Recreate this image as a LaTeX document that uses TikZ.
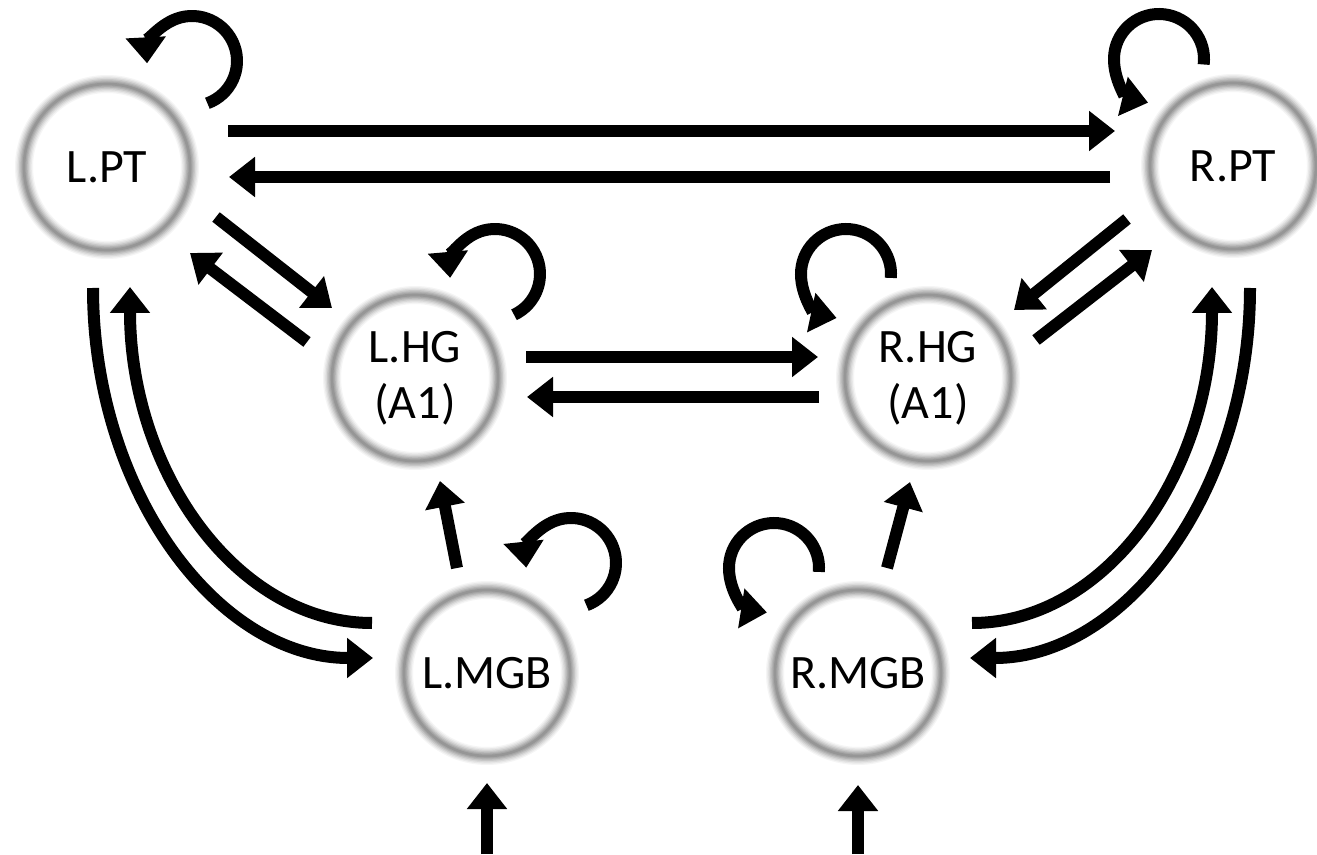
\documentclass[tikz,border=0pt]{standalone}
\usepackage{fontspec}
\setmainfont{Carlito}
\usetikzlibrary{arrows.meta}
\begin{document}
\begin{tikzpicture}[x=0.75pt,y=0.75pt,
  roi/.style={circle, minimum size=124.5pt, inner sep=0pt, align=center,
    font=\fontsize{36}{42}\selectfont,
    preaction={fill=white},
    preaction={draw=black!4, line width=13.5pt},
    preaction={draw=black!9, line width=11.5pt},
    preaction={draw=black!15, line width=9.5pt},
    preaction={draw=black!22, line width=7.5pt},
    preaction={draw=black!29, line width=5.5pt},
    preaction={draw=black!35, line width=3.75pt},
    draw=black!41, line width=2pt},
  arr/.style={line width=9pt, -{Triangle[length=19.5pt,width=29pt]}}]
\useasboundingbox (0,0) rectangle (1317,854);
\node[roi] (lpt) at (107,687) {L.PT};
\node[roi] (rpt) at (1233,688) {R.PT};
\node[roi] (lhg) at (415,476) {L.HG\\(A1)};
\node[roi] (rhg) at (928,476) {R.HG\\(A1)};
\node[roi] (lmgb) at (487,181) {L.MGB};
\node[roi] (rmgb) at (858,181) {R.MGB};
\coordinate (inl) at (487,0);
\coordinate (inr) at (858,0);
% top horizontals
\draw[arr] ([shift={(121,36)}]lpt.center) -- ([shift={(-118,35)}]rpt.center);
\draw[arr] ([shift={(-123,-11)}]rpt.center) -- ([shift={(122,-10)}]lpt.center);
% middle horizontals
\draw[arr] ([shift={(111,21)}]lhg.center) -- ([shift={(-110,21)}]rhg.center);
\draw[arr] ([shift={(-109,-19)}]rhg.center) -- ([shift={(112,-19)}]lhg.center);
% diagonals
\draw[arr] ([shift={(109,-50)}]lpt.center) -- ([shift={(-83,70)}]lhg.center);
\draw[arr] ([shift={(-108,36)}]lhg.center) -- ([shift={(83,-86)}]lpt.center);
\draw[arr] ([shift={(-106,-53)}]rpt.center) -- ([shift={(86,68)}]rhg.center);
\draw[arr] ([shift={(108,38)}]rhg.center) -- ([shift={(-81,-84)}]rpt.center);
% MGB to HG
\draw[arr] ([shift={(-30,105)}]lmgb.center) -- ([shift={(25,-103)}]lhg.center);
\draw[arr] ([shift={(29,105)}]rmgb.center) -- ([shift={(-18,-104)}]rhg.center);
% inputs
\draw[arr] (inl) -- ([shift={(0,-110)}]lmgb.center);
\draw[arr] (inr) -- ([shift={(0,-112)}]rmgb.center);
% big curves
\draw[arr] ([shift={(-14,-121)}]lpt.center) .. controls +(0,-204) and +(-155,0) .. ([shift={(-114,15)}]lmgb.center);
\draw[arr] ([shift={(-115,50)}]lmgb.center) .. controls +(-134,0) and +(0,-186) .. ([shift={(23,-120)}]lpt.center);
\draw[arr] ([shift={(17,-122)}]rpt.center) .. controls +(0,-204) and +(155,0) .. ([shift={(112,15)}]rmgb.center);
\draw[arr] ([shift={(114,50)}]rmgb.center) .. controls +(134,0) and +(0,-186) .. ([shift={(-21,-121)}]rpt.center);
% self loops
\draw[arr] ([shift={(85,106)}]lpt.center) ++(-70:45) arc[start angle=-70, end angle=183, radius=45];
\draw[arr] ([shift={(80,104)}]lhg.center) ++(-65:45) arc[start angle=-65, end angle=185, radius=45];
\draw[arr] ([shift={(84,110)}]lmgb.center) ++(-70:45) arc[start angle=-70, end angle=186, radius=45];
\draw[arr] ([shift={(-74,107)}]rpt.center) ++(-7:45) arc[start angle=-7, end angle=256, radius=45];
\draw[arr] ([shift={(-82,104)}]rhg.center) ++(-5:45) arc[start angle=-5, end angle=258, radius=45];
\draw[arr] ([shift={(-84,105)}]rmgb.center) ++(-5:45) arc[start angle=-5, end angle=261, radius=45];
\end{tikzpicture}
\end{document}
